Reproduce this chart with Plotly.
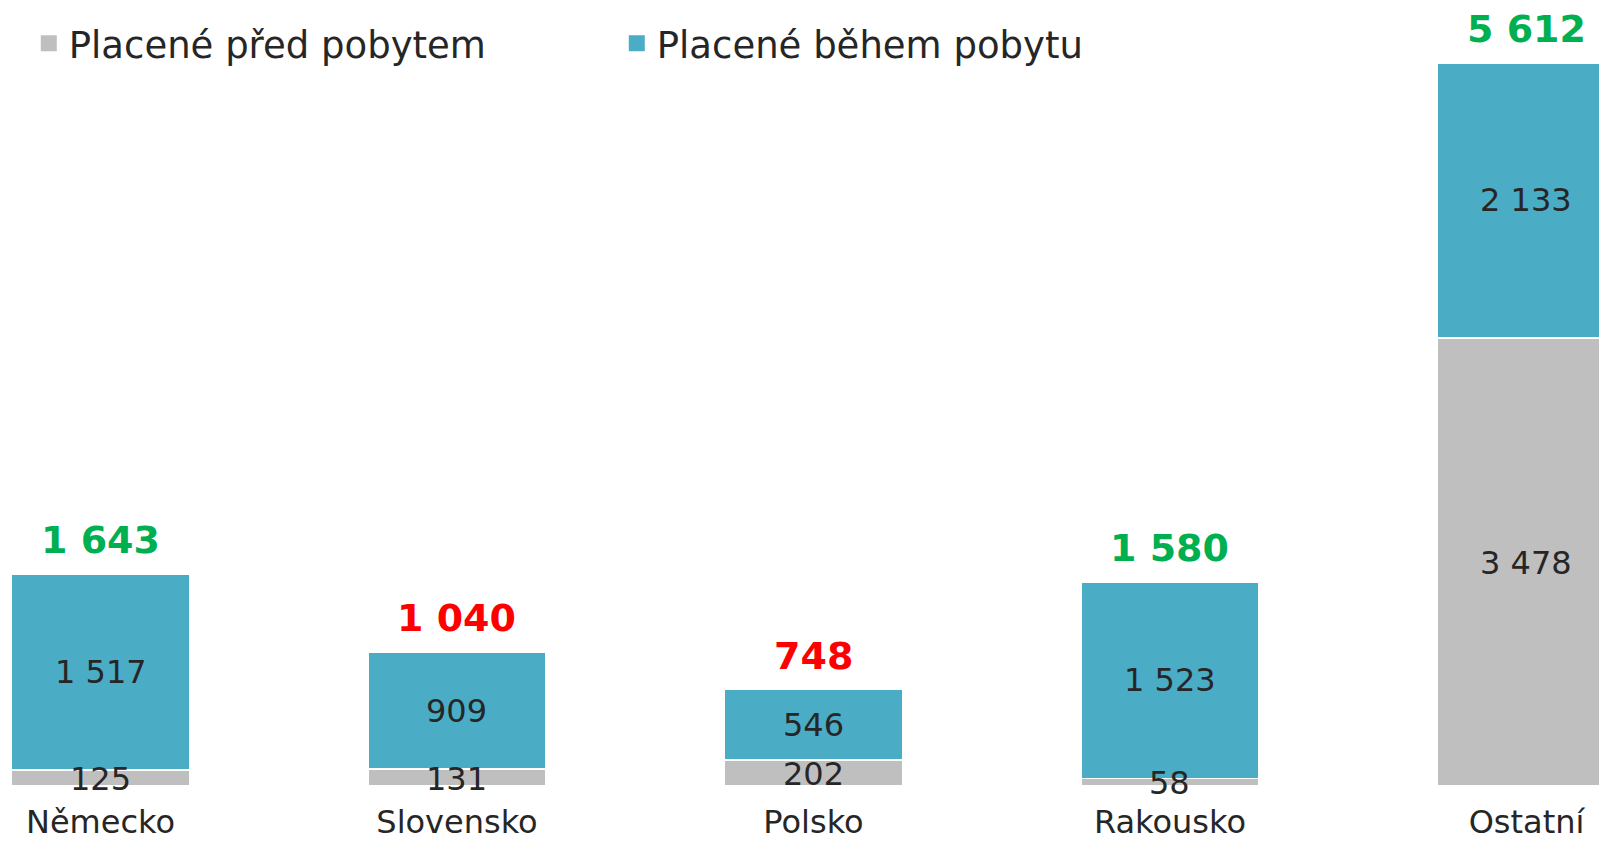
import plotly.graph_objects as go

categories = ["Německo", "Slovensko", "Polsko", "Rakousko", "Ostatní"]
before_stay = [125, 131, 202, 58, 3478]
during_stay = [1517, 909, 546, 1523, 2133]
totals = [1643, 1040, 748, 1580, 5612]
total_colors = ["#00B050", "#FF0000", "#FF0000", "#00B050", "#00B050"]
series_names = ["Placené před pobytem", "Placené během pobytu"]

GRAY = "#BFBFBF"
TEAL = "#4BACC6"
TXT = "#262626"
FONT = "DejaVu Sans"

def fmt(v):
    return f"{v:,}".replace(",", " ")

x_idx = list(range(len(categories)))

fig = go.Figure()
fig.add_trace(go.Bar(x=x_idx, y=before_stay, marker=dict(color=GRAY, line=dict(color="white", width=1.5)),
                     width=0.5, showlegend=False, hoverinfo="skip"))
fig.add_trace(go.Bar(x=x_idx, y=during_stay, marker=dict(color=TEAL, line=dict(color="white", width=1.5)),
                     width=0.5, showlegend=False, hoverinfo="skip"))
# legend entries
for name, col in zip(series_names, [GRAY, TEAL]):
    fig.add_trace(go.Scatter(x=[None], y=[None], mode="markers", name=name,
                             marker=dict(symbol="square", size=23, color=col)))

annotations = []
for i in x_idx:
    b = before_stay[i]
    d = during_stay[i]
    annotations.append(dict(x=i, y=b / 2, text=fmt(b), showarrow=False, yshift=-1,
                            font=dict(size=32, color=TXT, family=FONT)))
    annotations.append(dict(x=i, y=b + d / 2, text=fmt(d), showarrow=False,
                            font=dict(size=32, color=TXT, family=FONT)))
    annotations.append(dict(x=i, y=b + d, text="<b>" + fmt(totals[i]) + "</b>", showarrow=False,
                            yanchor="middle", yshift=34,
                            font=dict(size=38, color=total_colors[i], family=FONT)))

fig.update_layout(
    width=1599, height=843,
    barmode="stack",
    plot_bgcolor="white", paper_bgcolor="white",
    margin=dict(l=0, r=0, t=0, b=57, autoexpand=False),
    font=dict(family=FONT, color=TXT),
    xaxis=dict(range=[-0.2819, 4.2034], tickmode="array", tickvals=x_idx, ticktext=categories,
               showgrid=False, zeroline=False, showline=False, ticks="", automargin=False,
               ticklabelstandoff=14,
               tickfont=dict(size=32, color=TXT, family=FONT)),
    yaxis=dict(range=[0, 6100], visible=False, showgrid=False, zeroline=False, automargin=False),
    legend=dict(orientation="h", traceorder="normal", x=0.018, y=0.984, xanchor="left", yanchor="top",
                font=dict(size=37, color=TXT, family=FONT),
                entrywidth=543, entrywidthmode="pixels", bgcolor="rgba(0,0,0,0)"),
    annotations=annotations,
)

fig.write_html("out.html", config={"displayModeBar": False},
               post_script="document.body.style.margin='0px';")
